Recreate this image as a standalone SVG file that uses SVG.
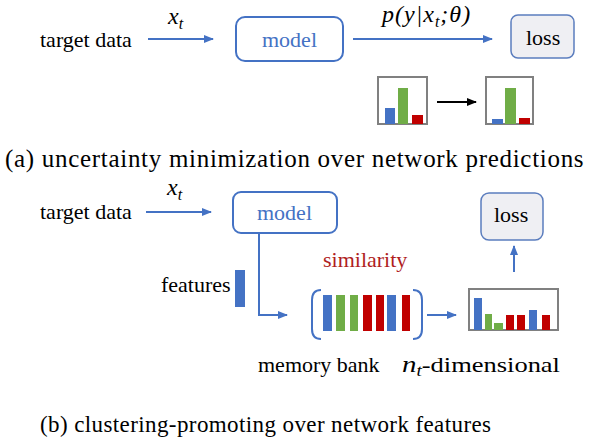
<svg xmlns="http://www.w3.org/2000/svg" width="589" height="439" viewBox="0 0 589 439">
<style>
.blue{fill:#4472C4}
.green{fill:#70AD47}
.red{fill:#C00000}
.edge{stroke:#4472C4;stroke-width:2;fill:none}
.chart{fill:#fff;stroke:#808080;stroke-width:2}
</style>
<defs>
<marker id="ab" markerWidth="10" markerHeight="8" refX="9" refY="4" orient="auto" markerUnits="userSpaceOnUse">
<path d="M0,0 L10,4 L0,8 z" fill="#4472C4"/>
</marker>
<marker id="ak" markerWidth="10" markerHeight="8" refX="9" refY="4" orient="auto" markerUnits="userSpaceOnUse">
<path d="M0,0 L10,4 L0,8 z" fill="#000"/>
</marker>
</defs>
<rect width="589" height="439" fill="#fff"/>

<!-- (a) -->
<g id="a-target"><text x="40" y="47" font-family="Liberation Serif" font-size="22">target data</text></g>
<g id="a-model">
<rect x="236" y="17" width="107" height="44" rx="9" fill="#fff" stroke="#4472C4" stroke-width="2"/>
<text x="262" y="47" font-family="Liberation Serif" font-size="22" fill="#4472C4">model</text>
</g>
<g id="a-loss">
<rect x="511" y="15" width="63" height="43" rx="7" fill="#EFEFF3" stroke="#5B7DBE" stroke-width="1.5"/>
<text x="526" y="45" font-family="Liberation Serif" font-size="22">loss</text>
</g>
<g id="a-chart1">
<rect class="chart" x="378" y="77" width="49" height="47"/>
<rect class="blue" x="385" y="108" width="10" height="16"/>
<rect class="green" x="398" y="88" width="10" height="36"/>
<rect class="red" x="412" y="115" width="11" height="9"/>
</g>
<g id="a-chart2">
<rect class="chart" x="486" y="77" width="47" height="47"/>
<rect class="blue" x="492" y="119" width="11" height="5"/>
<rect class="green" x="505" y="88" width="11" height="36"/>
<rect class="red" x="519" y="118" width="11" height="6"/>
</g>
<g id="a-connectors">
<line class="edge" x1="148" y1="39" x2="213" y2="39" marker-end="url(#ab)"/>
<line class="edge" x1="353" y1="39" x2="492" y2="39" marker-end="url(#ab)"/>
<line x1="437" y1="102" x2="476" y2="102" stroke="#000" stroke-width="2" marker-end="url(#ak)"/>
<text x="168" y="24" font-family="Liberation Serif" font-style="italic" font-size="24">x<tspan font-size="16" dy="5">t</tspan></text>
<text x="382" y="22" font-family="Liberation Serif" font-style="italic" font-size="24" letter-spacing="1">p(y|x<tspan font-size="16" dy="5">t</tspan><tspan dy="-5">;θ)</tspan></text>
</g>
<text x="5" y="167" font-family="Liberation Serif" font-size="25" letter-spacing="0.7">(a) uncertainty minimization over network predictions</text>

<!-- (b) -->
<g id="b-target"><text x="40" y="219" font-family="Liberation Serif" font-size="22">target data</text></g>
<g id="b-model">
<rect x="233" y="192" width="104" height="41" rx="8" fill="#fff" stroke="#4472C4" stroke-width="2"/>
<text x="257" y="220" font-family="Liberation Serif" font-size="22" fill="#4472C4">model</text>
</g>
<g id="b-loss">
<rect x="481" y="193" width="62" height="47" rx="8" fill="#EFEFF3" stroke="#5B7DBE" stroke-width="1.5"/>
<text x="494" y="222" font-family="Liberation Serif" font-size="22">loss</text>
</g>
<g id="b-features">
<text x="161" y="292" font-family="Liberation Serif" font-size="22">features</text>
<rect class="blue" x="235" y="270" width="10" height="37"/>
</g>
<g id="b-memory">
<text x="323" y="267" font-family="Liberation Serif" font-size="22" fill="#B01E1E">similarity</text>
<path d="M321,290 Q312,290 312,300 L312,329 Q312,339 321,339" fill="none" stroke="#4472C4" stroke-width="2"/>
<path d="M413,290 Q422,290 422,300 L422,329 Q422,339 413,339" fill="none" stroke="#4472C4" stroke-width="2"/>
<rect class="blue" x="323" y="295" width="9" height="36"/>
<rect class="green" x="336" y="295" width="9" height="36"/>
<rect class="green" x="350" y="295" width="8" height="36"/>
<rect class="red" x="363" y="295" width="9" height="36"/>
<rect class="red" x="376" y="295" width="8" height="36"/>
<rect class="blue" x="387" y="295" width="9" height="36"/>
<rect class="red" x="402" y="295" width="8" height="36"/>
<text x="258" y="372" font-family="Liberation Serif" font-size="22">memory bank</text>
</g>
<g id="b-chart">
<rect class="chart" x="469" y="289" width="89" height="41"/>
<rect class="blue" x="474" y="298" width="8" height="32"/>
<rect class="green" x="485" y="314" width="7" height="16"/>
<rect class="green" x="494" y="323" width="9" height="7"/>
<rect class="red" x="506" y="315" width="8" height="15"/>
<rect class="red" x="517" y="315" width="8" height="15"/>
<rect class="blue" x="529" y="310" width="8" height="20"/>
<rect class="red" x="542" y="315" width="8" height="15"/>
<text x="402" y="372" font-family="Liberation Serif" font-size="22" textLength="158" lengthAdjust="spacingAndGlyphs"><tspan font-style="italic" font-size="24">n</tspan><tspan font-style="italic" font-size="16" dy="4">t</tspan><tspan dy="-4">-dimensional</tspan></text>
</g>
<g id="b-connectors">
<line class="edge" x1="146" y1="212" x2="211" y2="212" marker-end="url(#ab)"/>
<text x="167" y="195" font-family="Liberation Serif" font-style="italic" font-size="24">x<tspan font-size="16" dy="5">t</tspan></text>
<polyline class="edge" points="259,233 259,315 287,315" marker-end="url(#ab)"/>
<line class="edge" x1="427" y1="315" x2="456" y2="315" marker-end="url(#ab)"/>
<line class="edge" x1="514" y1="272" x2="514" y2="246" marker-end="url(#ab)"/>
</g>
<text x="40" y="432" font-family="Liberation Serif" font-size="23" letter-spacing="0.4">(b) clustering-promoting over network features</text>
</svg>
